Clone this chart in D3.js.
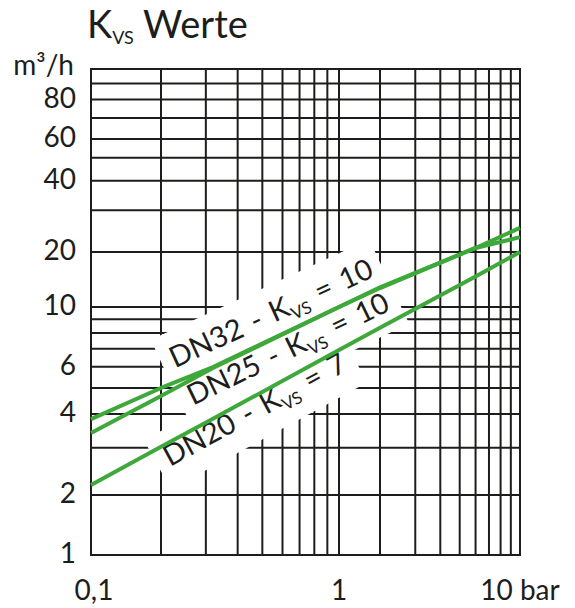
<!DOCTYPE html>
<html>
<head>
<meta charset="utf-8">
<script src="https://cdn.jsdelivr.net/npm/d3@7"></script>
<style>
  body { margin: 0; background: #fff; }
  svg { display: block; font-family: Lato, "Open Sans", sans-serif; }
</style>
</head>
<body>
<svg id="chart"></svg>
<script>
// grid values of the nomogram (bar / m3/h)
const xGrid = [0.1, 0.2, 0.3, 0.4, 0.5, 0.6, 0.7, 0.8, 0.9, 1, 2, 3, 4, 5, 6, 7, 8, 9, 10];
const yGrid = [1, 2, 3, 4, 5, 6, 7, 8, 9, 10, 20, 30, 40, 50, 60, 70, 80, 90, 100];
const xTickLabels = [0.1, 1, 10];
const yTickLabels = [1, 2, 4, 6, 10, 20, 40, 60, 80];

// pressure drop (bar) where the curves were read
const pressure = [0.1, 0.2, 0.32, 1, 2, 6, 10];
// flow (m3/h) for each valve size
const dn32 = [3.83, 5.0, 5.98, 10, 12.7, 20.8, 25.3];
const dn25 = [3.40, 4.67, 5.93, 10, 12.8, 20.8, 23.1];
const dn20 = [2.18, 3.02, 3.84, 6.92, 8.37, 14.7, 20.0];

const seriesNames = ["DN32", "DN25", "DN20"];
const seriesKvs = [10, 10, 7];
const seriesValues = [dn32, dn25, dn20];

function getConfig() {
  let width = 575;
  let height = 608;
  let margin = { top: 69, bottom: 53, left: 91, right: 55 };
  let bodyWidth = width - margin.left - margin.right;
  let bodyHeight = height - margin.top - margin.bottom;
  let container = d3.select("#chart")
    .attr("width", width)
    .attr("height", height);
  return { width, height, margin, bodyWidth, bodyHeight, container };
}

function getScales(config) {
  let { margin, bodyWidth, bodyHeight } = config;
  let left = margin.left, right = margin.left + bodyWidth;
  let top = margin.top, bottom = margin.top + bodyHeight;
  // the printed grid is not a clean log grid, so the scale is piecewise
  let xScale = d3.scaleLog()
    .domain([0.1, 0.2, 1, 2, 10])
    .range([left, left + 70, left + 248, left + 289, right]);
  let yScale = d3.scaleLog()
    .domain([1, 2, 10, 20, 60, 100])
    .range([bottom, bottom - 60, bottom - 248, bottom - 303, bottom - 416, top]);
  return { xScale, yScale };
}

function drawGrid(scales, config) {
  let { container } = config;
  let { xScale, yScale } = scales;
  let g = container.append("g")
    .attr("stroke", "#1d1d1b")
    .attr("stroke-width", 2);

  g.selectAll(".vline")
    .data(xGrid)
    .enter()
    .append("line")
      .attr("x1", d => xScale(d))
      .attr("x2", d => xScale(d))
      .attr("y1", yScale(100) - 1)
      .attr("y2", yScale(1) + 1);

  g.selectAll(".hline")
    .data(yGrid)
    .enter()
    .append("line")
      .attr("y1", d => yScale(d))
      .attr("y2", d => yScale(d))
      .attr("x1", xScale(0.1) - 1)
      .attr("x2", xScale(10) + 1);
}

function drawAxes(scales, config) {
  let { container } = config;
  let { xScale, yScale } = scales;

  container.append("text")
    .attr("x", 87)
    .attr("y", 38)
    .attr("font-size", 38)
    .attr("fill", "#1d1d1b")
    .call(t => {
      t.append("tspan").text("K");
      t.append("tspan").attr("font-size", 18).attr("dy", 6).text("VS");
      t.append("tspan").attr("dy", -6).text(" Werte");
    });

  container.append("text")
    .attr("x", 74)
    .attr("y", 75)
    .attr("text-anchor", "end")
    .attr("font-size", 28)
    .attr("fill", "#1d1d1b")
    .text("m³/h");

  container.selectAll(".ylabel")
    .data(yTickLabels)
    .enter()
    .append("text")
      .attr("x", 76)
      .attr("y", d => yScale(d) - 3)
      .attr("dominant-baseline", "central")
      .attr("text-anchor", "end")
      .attr("font-size", 28)
      .attr("fill", "#1d1d1b")
      .text(d => d);

  container.selectAll(".xlabel")
    .data(xTickLabels)
    .enter()
    .append("text")
      .attr("x", d => xScale(d) + (d == 0.1 ? 3 : 0))
      .attr("y", 600)
      .attr("text-anchor", "middle")
      .attr("font-size", 28)
      .attr("fill", "#1d1d1b")
      .text(d => d == 10 ? "10 bar" : String(d).replace(".", ","));
}

function linePoints(values, scales) {
  let { xScale, yScale } = scales;
  return pressure.map((p, i) => [xScale(p), yScale(values[i])]);
}

// y in pixels on a curve at a pixel x
function curveY(pts, px) {
  for (let i = 1; i < pts.length; i++) {
    if (px <= pts[i][0]) {
      let t = (px - pts[i - 1][0]) / (pts[i][0] - pts[i - 1][0]);
      return pts[i - 1][1] + t * (pts[i][1] - pts[i - 1][1]);
    }
  }
  return pts[pts.length - 1][1];
}

function drawLabels(scales, config) {
  let { container } = config;
  let { xScale } = scales;
  // start of each label along the pressure axis and its offset from the curve
  let labelAt = [0.227, 0.267, 0.217];
  let labelDy = [-14, 27, 25];
  let span = 200;

  // white plates first, so no plate hides another label's text
  let plates = container.append("g");
  let texts = container.append("g");

  seriesNames.forEach((name, i) => {
    let pts = linePoints(seriesValues[i], scales);
    let px = xScale(labelAt[i]);
    let y0 = curveY(pts, px), y1 = curveY(pts, px + span);
    let angle = Math.atan2(y1 - y0, span) * 180 / Math.PI;
    let py = y0 + labelDy[i];
    let transform = `translate(${px},${py}) rotate(${angle})`;

    let text = texts.append("text")
      .attr("transform", transform)
      .attr("font-size", 29)
      .attr("fill", "#1d1d1b")
      .attr("word-spacing", 3);
    text.append("tspan").text(name + " - K");
    text.append("tspan").attr("font-size", 17).attr("dy", 6).text("VS");
    text.append("tspan").attr("dy", -6).text(" = " + seriesKvs[i]);

    let bb = text.node().getBBox();
    let pad = 10;
    plates.append("rect")
      .attr("transform", transform)
      .attr("fill", "#fff")
      .attr("x", bb.x - pad)
      .attr("y", bb.y - pad + 3)
      .attr("width", bb.width + 2 * pad)
      .attr("height", bb.height + 2 * pad - 3);
  });
}

function drawCurves(scales, config) {
  let { container } = config;
  let line = d3.line();
  container.selectAll(".curve")
    .data(seriesValues)
    .enter()
    .append("path")
      .attr("d", d => line(linePoints(d, scales)))
      .attr("fill", "none")
      .attr("stroke", "#3ea83a")
      .attr("stroke-width", 4)
      .attr("stroke-linejoin", "round");
}

function drawChart() {
  let config = getConfig();
  let scales = getScales(config);
  drawGrid(scales, config);
  drawAxes(scales, config);
  drawLabels(scales, config);
  drawCurves(scales, config);
}

drawChart();
</script>
</body>
</html>
